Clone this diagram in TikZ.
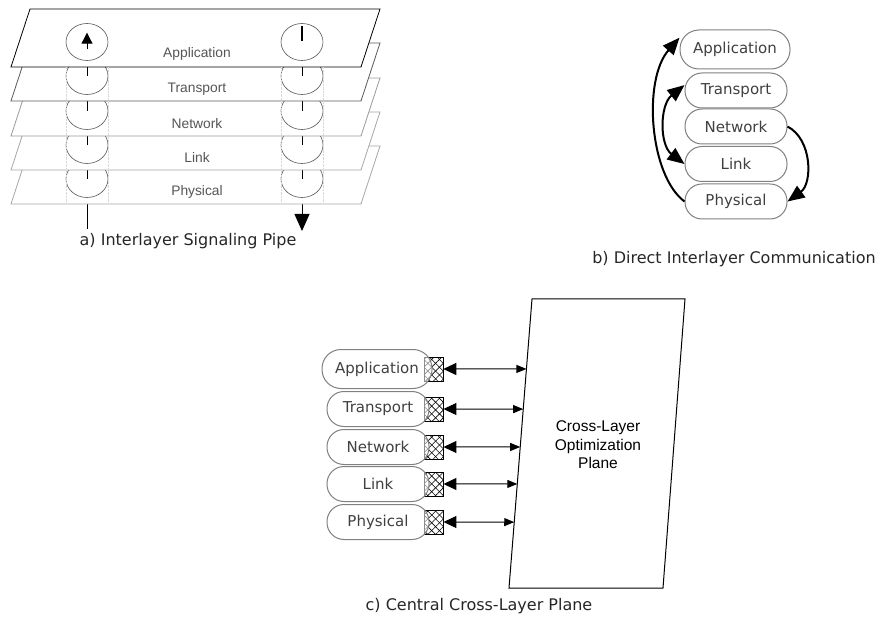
\documentclass[tikz,border=0pt]{standalone}
\usepackage{fontspec}
\setmainfont{DejaVu Sans}
\newfontfamily\arialfont{Liberation Sans}
\usepackage{tikz}
\usetikzlibrary{arrows.meta,shapes.geometric,patterns.meta,calc}
\usepackage{xcolor}
\definecolor{pillgray}{HTML}{808080}
\definecolor{pilltext}{HTML}{404040}
\definecolor{planetext}{HTML}{555555}

\begin{document}
\begin{tikzpicture}[x=1pt,y=-1pt,line width=0.2mm]
  \tikzstyle{layer plane} = [fill=white,line width=0.8pt]
  \tikzstyle{pipe ring} = [draw=black!65,ellipse,minimum width=42pt,minimum height=37pt,inner sep=0pt,line width=0.6pt]
  \tikzstyle{pipe line} = [draw,line width=1pt]
  \tikzstyle{plane label} = [text=planetext,font=\arialfont\fontsize{13.8}{16}\selectfont]
  \tikzstyle{layer pill} = [draw=pillgray,line width=1pt,rounded corners=17pt,minimum width=102pt,minimum height=35pt,inner sep=0pt,text=pilltext,font=\fontsize{15}{18}\selectfont,fill=white]
  \tikzstyle{wide pill} = [layer pill,minimum width=110pt,minimum height=39pt,rounded corners=19pt]
  \tikzstyle{comm arrow} = [draw,line width=2pt,-{Triangle[length=17pt,width=14pt]}]
  \tikzstyle{hatch box} = [draw,line width=0.9pt,minimum width=19pt,minimum height=24pt,inner sep=0pt,pattern={Lines[angle=45,distance=5.5pt,line width=0.6pt]},postaction={pattern={Lines[angle=-45,distance=5.5pt,line width=0.6pt]}}]
  \tikzstyle{plane link} = [draw,line width=1pt,{Triangle[length=13pt,width=12pt]}-{Triangle[length=10pt,width=8pt]}]
  \tikzstyle{fig caption} = [text=black!85,font=\fontsize{16}{19}\selectfont]

  \useasboundingbox (0,0) rectangle (878,620);

  % a) signaling pipe, drawn from the bottom plane upwards
  \coordinate (pipeIn) at (87,229);
  \coordinate (pipeOut) at (302,231);
  \draw[pipe line] (pipeIn) -- (87,190);
  \draw[pipe line,-{Triangle[length=17pt,width=15pt]}] (302,190) -- (pipeOut);

  \draw[layer plane,draw=black!35] (11,204) -- (30,146) -- (380,146) -- (361,204) -- cycle;
  \node[pipe ring] (lPhy) at (87,179) {};
  \node[pipe ring] (rPhy) at (302,179) {};
  \draw[pipe line] (lPhy.north) -- (lPhy.center);
  \draw[pipe line] (rPhy.north) -- (rPhy.center);
  \node[plane label] (aPhy) at (197,192) {Physical};

  \draw[layer plane,draw=black!35] (11,170) -- (30,112) -- (380,112) -- (361,170) -- cycle;
  \node[pipe ring] (lLin) at (87,145) {};
  \node[pipe ring] (rLin) at (302,145) {};
  \draw[pipe line] (lLin.north) -- (lLin.center);
  \draw[pipe line] (rLin.north) -- (rLin.center);
  \node[plane label] (aLin) at (197,158) {Link};

  \draw[layer plane,draw=black!40] (11,136) -- (30,78) -- (380,78) -- (361,136) -- cycle;
  \node[pipe ring] (lNet) at (87,111) {};
  \node[pipe ring] (rNet) at (302,111) {};
  \draw[pipe line] (lNet.north) -- (lNet.center);
  \draw[pipe line] (rNet.north) -- (rNet.center);
  \node[plane label] (aNet) at (197,124) {Network};

  \draw[layer plane,draw=black!65] (11,101) -- (30,43) -- (380,43) -- (361,101) -- cycle;
  \node[pipe ring] (lTra) at (87,76) {};
  \node[pipe ring] (rTra) at (302,76) {};
  \draw[pipe line] (lTra.north) -- (lTra.center);
  \draw[pipe line] (rTra.north) -- (rTra.center);
  \node[plane label] (aTra) at (197,89) {Transport};

  \draw[layer plane,draw=black] (11,67) -- (30,9) -- (380,9) -- (361,67) -- cycle;
  \node[pipe ring] (lApp) at (87,42) {};
  \node[pipe ring] (rApp) at (302,42) {};
  \draw[pipe line,-{Triangle[length=11pt,width=11pt]}] ([yshift=-7pt]lApp.center) -- ([yshift=-9.5pt]lApp.north);
  \draw[pipe line,line width=1.4pt] ([yshift=-3pt]rApp.north) -- ([yshift=1pt]rApp.center);
  \node[plane label] (aApp) at (197,54) {Application};

  \draw[black!15,line width=0.4pt,densely dotted] ([yshift=-25pt]lApp.west) -- ([yshift=-25pt]lPhy.west);
  \draw[black!15,line width=0.4pt,densely dotted] ([yshift=-25pt]lApp.east) -- ([yshift=-25pt]lPhy.east);
  \draw[black!15,line width=0.4pt,densely dotted] ([yshift=-25pt]rApp.west) -- ([yshift=-25pt]rPhy.west);
  \draw[black!15,line width=0.4pt,densely dotted] ([yshift=-25pt]rApp.east) -- ([yshift=-25pt]rPhy.east);

  \node[fig caption] (capA) at (188,241) {a) Interlayer Signaling Pipe};

  % b) direct communication
  \node[wide pill]  (bApp) at (735,49.5) {Application};
  \node[layer pill] (bTra) at (736,90.5) {Transport};
  \node[layer pill] (bNet) at (736,126.5) {Network};
  \node[layer pill] (bLin) at (736,164) {Link};
  \node[layer pill] (bPhy) at (736,201.5) {Physical};

  \draw[comm arrow] (bPhy.west) .. controls +(-35,-26) and +(-37,42) .. (bApp.168);
  \draw[comm arrow,{Triangle[length=17pt,width=14pt]}-{Triangle[length=17pt,width=14pt]}] (bTra.174) .. controls +(-25,20) and +(-25,-19) .. (bLin.west);
  \draw[comm arrow] (bNet.east) .. controls +(25,13) and +(25,-18) .. (bPhy.east);

  \node[fig caption] (capB) at (734,259) {b) Direct Interlayer Communication};

  % c) central plane
  \coordinate (pTL) at (532,299);
  \coordinate (pTR) at (685,299);
  \coordinate (pBR) at (663,588);
  \coordinate (pBL) at (509,588);
  \draw[fill=white,line width=1pt] (pTL) -- (pTR) -- (pBR) -- (pBL) -- cycle;
  \node[align=center,font=\arialfont\fontsize{15.5}{18.5}\selectfont] (cPlane) at (598,445) {Cross-Layer\\Optimization\\Plane};

  \node[hatch box] (hApp) at (433.5,369) {};
  \node[hatch box] (hTra) at (433.5,409) {};
  \node[hatch box] (hNet) at (433.5,447) {};
  \node[hatch box] (hLin) at (433.5,484) {};
  \node[hatch box] (hPhy) at (433.5,522) {};

  \node[wide pill,fill opacity=0.55,text opacity=1]  (cApp) at (377,369) {Application};
  \node[layer pill,fill opacity=0.55,text opacity=1] (cTra) at (378,409) {Transport};
  \node[layer pill,fill opacity=0.55,text opacity=1] (cNet) at (378,447) {Network};
  \node[layer pill,fill opacity=0.55,text opacity=1] (cLin) at (378,484) {Link};
  \node[layer pill,fill opacity=0.55,text opacity=1] (cPhy) at (378,522) {Physical};

  \coordinate (eApp) at ($(pTL)!0.242!(pBL)$);
  \coordinate (eTra) at ($(pTL)!0.381!(pBL)$);
  \coordinate (eNet) at ($(pTL)!0.512!(pBL)$);
  \coordinate (eLin) at ($(pTL)!0.640!(pBL)$);
  \coordinate (ePhy) at ($(pTL)!0.772!(pBL)$);
  \draw[plane link] (hApp.east) -- (eApp);
  \draw[plane link] (hTra.east) -- (eTra);
  \draw[plane link] (hNet.east) -- (eNet);
  \draw[plane link] (hLin.east) -- (eLin);
  \draw[plane link] (hPhy.east) -- (ePhy);

  \node[fig caption] (capC) at (479,606) {c) Central Cross-Layer Plane};
\end{tikzpicture}
\end{document}
